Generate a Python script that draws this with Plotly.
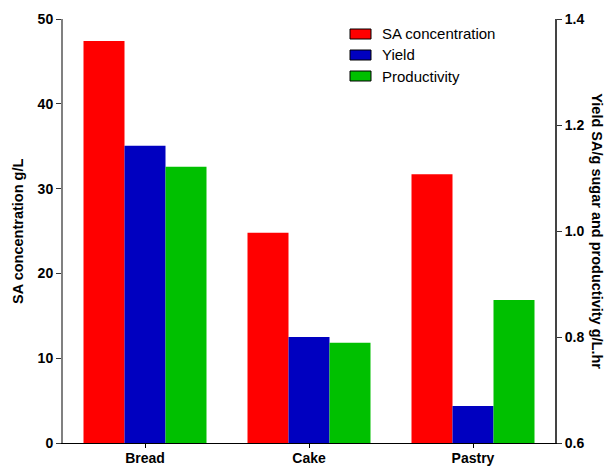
import plotly.graph_objects as go

# Substrates tested and measured fermentation outputs
substrates = ["Bread", "Cake", "Pastry"]
sa_concentration = [47.4, 24.8, 31.7]      # g/L (left axis)
yield_sa = [1.161, 0.800, 0.670]           # g SA / g sugar (right axis)
productivity = [1.121, 0.789, 0.870]       # g/L.hr (right axis)
series_names = ["SA concentration", "Yield", "Productivity"]

left_ticks = [0, 10, 20, 30, 40, 50]
right_ticks = [0.6, 0.8, 1.0, 1.2, 1.4]

FONT = "Arial, Liberation Sans, sans-serif"
COLORS = ["#FF0000", "#0000C0", "#00C000"]

fig = go.Figure()
fig.add_trace(go.Bar(
    x=substrates, y=sa_concentration, name=series_names[0],
    marker=dict(color=COLORS[0], line=dict(width=0)),
    width=0.25, offset=-0.375, yaxis="y",
))
fig.add_trace(go.Bar(
    x=substrates, y=yield_sa, name=series_names[1],
    marker=dict(color=COLORS[1], line=dict(width=0)),
    width=0.25, offset=-0.125, yaxis="y2",
))
fig.add_trace(go.Bar(
    x=substrates, y=productivity, name=series_names[2],
    marker=dict(color=COLORS[2], line=dict(width=0)),
    width=0.25, offset=0.125, yaxis="y2",
))

# Legend drawn as outlined keys with labels (paper coordinates)
plot_left, plot_w = 63, 492
plot_bottom, plot_h = 443, 424
shapes, annotations = [], []
for i, (name, color) in enumerate(zip(series_names, COLORS)):
    cy = 34 + 21 * i
    shapes.append(dict(
        type="rect", xref="paper", yref="paper",
        x0=(350 - plot_left) / plot_w, x1=(371 - plot_left) / plot_w,
        y0=(plot_bottom - (cy + 5)) / plot_h, y1=(plot_bottom - (cy - 5)) / plot_h,
        fillcolor=color, line=dict(color="black", width=1),
    ))
    annotations.append(dict(
        text=name, xref="paper", yref="paper",
        x=(380 - plot_left) / plot_w, y=(plot_bottom - cy) / plot_h,
        xanchor="left", yanchor="middle", showarrow=False,
        font=dict(size=15, family=FONT, color="black"),
    ))

annotations += [
    dict(
        text="<b>SA concentration g/L</b>", textangle=-90,
        xref="paper", yref="paper", x=-0.0915, y=0.5,
        xanchor="center", yanchor="middle", showarrow=False,
        font=dict(size=14.5, family=FONT),
    ),
    dict(
        text="<b>Yield SA/g sugar and productivity g/L.hr</b>", textangle=90,
        xref="paper", yref="paper", x=1.085, y=0.5,
        xanchor="center", yanchor="middle", showarrow=False,
        font=dict(size=14.5, family=FONT),
    ),
]

fig.update_layout(
    width=608, height=466,
    margin=dict(l=63, r=53, t=19, b=23),
    plot_bgcolor="white", paper_bgcolor="white",
    font=dict(family=FONT, color="black"),
    showlegend=False,
    xaxis=dict(
        range=[-0.5, 2.5], automargin=False,
        showline=True, linecolor="black", linewidth=1,
        ticks="outside", ticklen=4, tickcolor="black",
        ticklabelstandoff=-2,
        tickfont=dict(size=14, family=FONT, weight="bold"),
        showgrid=False, zeroline=False,
    ),
    yaxis=dict(
        range=[0, 50], tickvals=left_ticks, automargin=False,
        showline=True, linecolor="#808080", linewidth=2,
        ticks="outside", ticklen=5, tickcolor="#333333", tickwidth=1,
        tickfont=dict(size=14, family=FONT, weight="bold"),
        showgrid=False, zeroline=False,
    ),
    yaxis2=dict(
        range=[0.6, 1.4], tickvals=right_ticks, tickformat=".1f",
        overlaying="y", side="right", automargin=False,
        showline=True, linecolor="#444444", linewidth=2,
        ticks="outside", ticklen=5, tickcolor="#333333", tickwidth=1,
        tickfont=dict(size=14, family=FONT, weight="bold"),
        showgrid=False, zeroline=False,
    ),
    shapes=shapes,
    annotations=annotations,
)

fig.write_html("out.html")
